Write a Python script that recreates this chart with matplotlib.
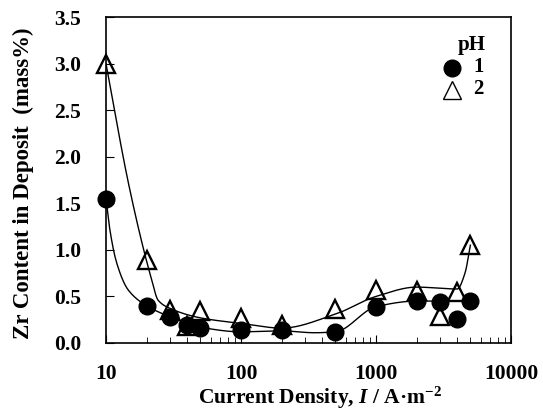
import numpy as np
import matplotlib
matplotlib.use("Agg")
import matplotlib.pyplot as plt

plt.rcParams['font.family'] = ['Liberation Serif', 'DejaVu Serif']
plt.rcParams['font.weight'] = 'bold'
plt.rcParams['mathtext.fontset'] = 'custom'
plt.rcParams['mathtext.rm'] = 'Liberation Serif:bold'
plt.rcParams['mathtext.it'] = 'Liberation Serif:italic:bold'
plt.rcParams['mathtext.bf'] = 'Liberation Serif:bold'

# measured Zr content vs current density
cd = [10, 20, 30, 40, 50, 100, 200, 500, 1000, 2000, 3000, 4000, 5000]
zr_ph1 = [1.55, 0.40, 0.28, 0.19, 0.16, 0.14, 0.14, 0.12, 0.39, 0.45, 0.44, 0.26, 0.45]
zr_ph2 = [3.00, 0.89, 0.35, 0.18, 0.34, 0.27, 0.19, 0.37, 0.57, 0.56, 0.29, 0.55, 1.05]

# hand-drawn trend lines (knots)
fit1_x = [10, 10.7, 12.0, 14.6, 20, 30, 50, 100, 200, 350, 500, 1000, 2000, 3000, 5000]
fit1_y = [1.55, 1.21, 0.86, 0.57, 0.40, 0.28, 0.17, 0.12, 0.13, 0.11, 0.12, 0.39, 0.45, 0.45, 0.45]
fit2_x = [10, 14.5, 18.8, 21.8, 24.3, 30, 50, 100, 200, 500, 1000, 2000, 4000, 4560, 5000]
fit2_y = [3.00, 1.75, 1.03, 0.68, 0.46, 0.37, 0.27, 0.21, 0.16, 0.31, 0.50, 0.60, 0.58, 0.75, 1.05]


def pchip(xk, yk, xn):
    # monotone cubic through the knots (Fritsch-Carlson)
    xk = np.asarray(xk, float)
    yk = np.asarray(yk, float)
    h = np.diff(xk)
    d = np.diff(yk) / h
    m = np.zeros_like(yk)
    for i in range(1, len(xk) - 1):
        if d[i - 1] * d[i] > 0:
            w1 = 2 * h[i] + h[i - 1]
            w2 = h[i] + 2 * h[i - 1]
            m[i] = (w1 + w2) / (w1 / d[i - 1] + w2 / d[i])
    m[0] = d[0]
    m[-1] = d[-1]
    idx = np.clip(np.searchsorted(xk, xn) - 1, 0, len(h) - 1)
    t = (xn - xk[idx]) / h[idx]
    h00 = 2 * t**3 - 3 * t**2 + 1
    h10 = t**3 - 2 * t**2 + t
    h01 = -2 * t**3 + 3 * t**2
    h11 = t**3 - t**2
    return h00 * yk[idx] + h10 * h[idx] * m[idx] + h01 * yk[idx + 1] + h11 * h[idx] * m[idx + 1]


def smooth(xk, yk):
    lx = np.log10(xk)
    xs = np.linspace(lx[0], lx[-1], 400)
    return 10**xs, pchip(lx, yk, xs)


fig = plt.figure(figsize=(5.43, 4.19), dpi=100)
ax = fig.add_axes([0.1952, 0.1814, 0.7459, 0.7780])

x1, y1 = smooth(fit1_x, fit1_y)
x2, y2 = smooth(fit2_x, fit2_y)
ax.plot(x1, y1, color='black', lw=1.0, zorder=2)
ax.plot(x2, y2, color='black', lw=1.0, zorder=2)

ax.plot(cd, zr_ph2, linestyle='none', marker='^', markersize=12.5, markerfacecolor='none',
        markeredgecolor='black', markeredgewidth=1.7, zorder=3, clip_on=False)
ax.plot(cd, zr_ph1, linestyle='none', marker='o', markersize=12, color='black', zorder=4,
        clip_on=False)

ax.set_xscale('log')
ax.set_xlim(10, 10000)
ax.set_ylim(0, 3.5)
ax.set_yticks(np.arange(0, 3.51, 0.5))
ax.set_yticklabels(['%.1f' % v for v in np.arange(0, 3.51, 0.5)])
ax.set_xticks([10, 100, 1000, 10000])
ax.set_xticklabels(['10', '100', '1000', '10000'])
ax.tick_params(axis='both', which='both', direction='in', labelsize=15.5)
ax.tick_params(axis='x', which='major', length=6, pad=15)
ax.tick_params(axis='x', which='minor', length=4)
ax.tick_params(axis='y', which='major', length=6, pad=18)
for s in ax.spines.values():
    s.set_linewidth(1.2)

fig.text(320 / 543, 1 - 398 / 419, r'Current Density, $I$ / A·m$^{\mathrm{-2}}$',
         fontsize=15.5, fontweight='bold', ha='center', va='center')
fig.text(23 / 543, 1 - 183 / 419, 'Zr Content in Deposit  (mass%)', rotation=90,
         fontsize=16.5, fontweight='bold', ha='center', va='center')

# legend
ax.text(0.904, 0.914, 'pH', transform=ax.transAxes, fontsize=15, fontweight='bold',
        ha='center', va='center')
ax.plot([0.854], [0.844], transform=ax.transAxes, marker='o', markersize=12, color='black',
        clip_on=False)
ax.text(0.919, 0.846, '1', transform=ax.transAxes, fontsize=15, fontweight='bold',
        ha='center', va='center')
ax.plot([0.854], [0.776], transform=ax.transAxes, marker='^', markersize=13,
        markerfacecolor='none', markeredgecolor='black', markeredgewidth=1.0, clip_on=False)
ax.text(0.919, 0.778, '2', transform=ax.transAxes, fontsize=15, fontweight='bold',
        ha='center', va='center')

fig.savefig('out.png', dpi=100)
